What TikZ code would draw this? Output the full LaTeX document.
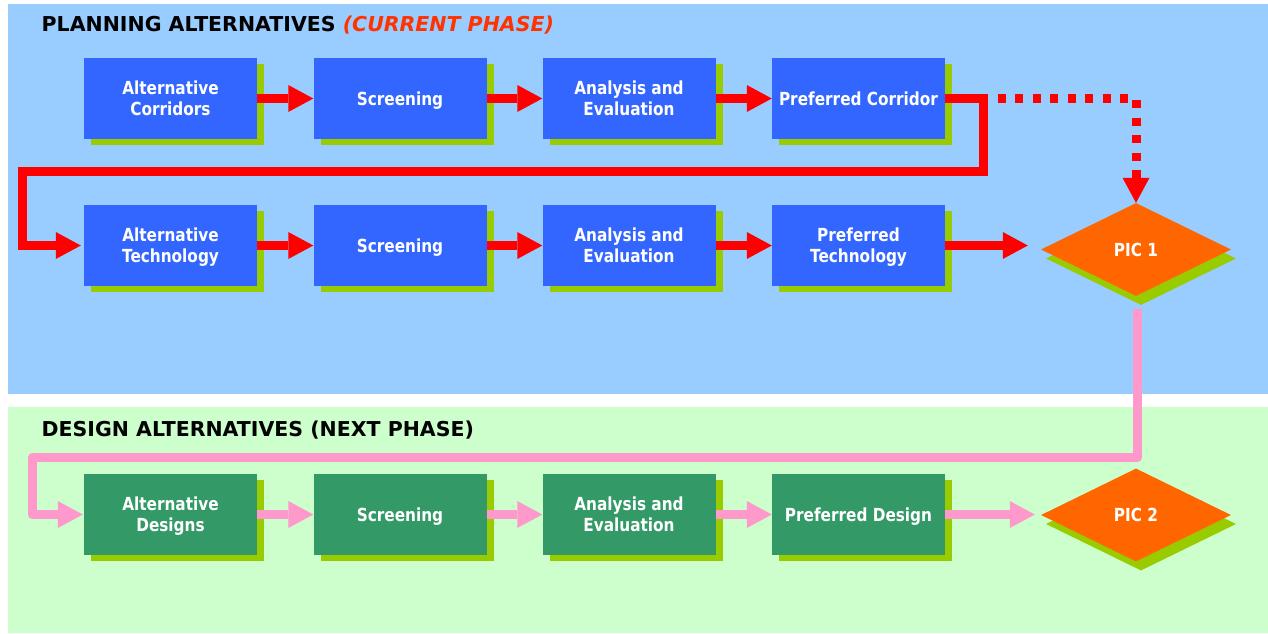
\documentclass[tikz,border=0pt]{standalone}
\usepackage{fontspec}
\setmainfont{DejaVu Sans}
\newfontfamily\boxfont[FakeStretch=0.85]{DejaVu Sans}
\usetikzlibrary{arrows.meta,shapes.geometric,shadows}
\definecolor{panelblue}{HTML}{99CCFF}
\definecolor{panelgreen}{HTML}{CCFFCC}
\definecolor{boxblue}{HTML}{3366FF}
\definecolor{boxgreen}{HTML}{339966}
\definecolor{shadowgreen}{HTML}{99CC00}
\definecolor{picorange}{HTML}{FF6600}
\definecolor{flowred}{HTML}{FF0000}
\definecolor{flowpink}{HTML}{FF99CC}
\definecolor{titlered}{HTML}{FF3300}
\tikzset{
  procbox/.style={rectangle, minimum width=173pt, minimum height=81pt, inner sep=0pt,
    align=center, text=white, text depth=0pt, font=\boxfont\bfseries\fontsize{18}{20.7}\selectfont,
    drop shadow={shadow xshift=7pt, shadow yshift=-6pt, fill=shadowgreen, opacity=1}},
  bluebox/.style={procbox, fill=boxblue},
  greenbox/.style={procbox, fill=boxgreen},
  decision/.style={diamond, aspect=2, minimum width=190pt, minimum height=93pt, inner sep=0pt,
    fill=picorange, text=white, font=\boxfont\bfseries\fontsize{18}{20.7}\selectfont,
    drop shadow={shadow xshift=5pt, shadow yshift=-9pt, fill=shadowgreen, opacity=1}},
  flowtip/.style={-{Triangle[length=25pt,width=27pt,line width=0pt]}},
  redflow/.style={draw=flowred, line width=9pt, flowtip},
  reddots/.style={draw=flowred, line width=9pt, dash pattern=on 8pt off 9.5pt, flowtip},
  pinkflow/.style={draw=flowpink, line width=9pt, line join=round, flowtip},
  paneltitle/.style={anchor=base west, inner sep=0pt, font=\bfseries\fontsize{20.5}{24}\selectfont}
}
\begin{document}
\begin{tikzpicture}[x=1pt,y=-1pt]
\useasboundingbox (0,0) rectangle (1268,634);
\fill[panelblue] (8,4) rectangle (1268,394);
\fill[panelgreen] (8,407) rectangle (1268,633);

\node[paneltitle] (t1) at (41.5,31.7) {PLANNING ALTERNATIVES \textcolor{titlered}{\itshape(CURRENT PHASE)}};
\node[paneltitle] (t2) at (41.5,436) {DESIGN ALTERNATIVES (NEXT PHASE)};

% row 1
\node[bluebox] (a1) at (170.5,98.5) {Alternative\\Corridors};
\node[bluebox] (a2) at (400,98.5) {Screening};
\node[bluebox] (a3) at (629,98.5) {Analysis and\\Evaluation};
\node[bluebox] (a4) at (858.5,98.5) {Preferred Corridor};
% row 2
\node[bluebox] (b1) at (170.5,245.5) {Alternative\\Technology};
\node[bluebox] (b2) at (400,245.5) {Screening};
\node[bluebox] (b3) at (629,245.5) {Analysis and\\Evaluation};
\node[bluebox] (b4) at (858.5,245.5) {Preferred\\Technology};
% row 3
\node[greenbox] (c1) at (170.5,514.5) {Alternative\\Designs};
\node[greenbox] (c2) at (400,514.5) {Screening};
\node[greenbox] (c3) at (629,514.5) {Analysis and\\Evaluation};
\node[greenbox] (c4) at (858.5,514.5) {Preferred Design};
% decisions
\node[decision] (pic1) at (1136,249.5) {PIC 1};
\node[decision] (pic2) at (1136,515) {PIC 2};

\coordinate (fbR) at (983,171);
\coordinate (fbL) at (22,245.5);
\coordinate (pstart) at (1137.5,309);
\coordinate (pmid) at (32,457.5);

% dotted path to PIC 1
\draw[reddots] (a4.east) -| (pic1.north);
% red flows
\draw[redflow] (a1.east) -- (a2.west);
\draw[redflow] (a2.east) -- (a3.west);
\draw[redflow] (a3.east) -- (a4.west);
\draw[redflow, shorten >=3pt] (a4.east) -| (fbR) -| (fbL) -- (b1.west);
\draw[redflow] (b1.east) -- (b2.west);
\draw[redflow] (b2.east) -- (b3.west);
\draw[redflow] (b3.east) -- (b4.west);
\draw[redflow, shorten >=13pt] (b4.east) -- (b4.east -| pic1.west);
% pink flows
\draw[pinkflow, shorten >=1pt] (pstart) |- (pmid) |- (c1.west);
\draw[pinkflow] (c1.east) -- (c2.west);
\draw[pinkflow] (c2.east) -- (c3.west);
\draw[pinkflow] (c3.east) -- (c4.west);
\draw[pinkflow, shorten >=6pt] (c4.east) -- (c4.east -| pic2.west);
\end{tikzpicture}
\end{document}
